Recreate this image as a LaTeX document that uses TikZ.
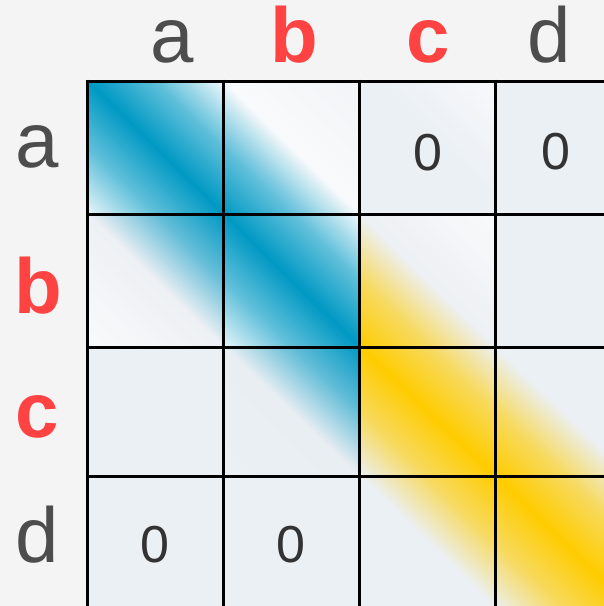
\documentclass[tikz,border=0pt]{standalone}
\usepackage{fontspec}
\setmainfont{Liberation Sans}
\definecolor{bgc}{HTML}{F4F4F4}
\definecolor{cellg}{HTML}{EBF0F5}
\definecolor{bandb}{HTML}{0099C4}
\definecolor{bandy}{HTML}{FFCC00}
\definecolor{labgray}{HTML}{4D4D4D}
\definecolor{labred}{HTML}{FF4242}
\definecolor{zerogray}{HTML}{333333}
\colorlet{bwa}{bandb!9!white}
\colorlet{bwb}{bandb!4!white}
\colorlet{bmid}{bandb!62!white}
\definecolor{offw}{HTML}{F2F4F7}
\definecolor{nearw}{HTML}{F9FAFB}
\definecolor{midg}{HTML}{EDF0F4}
\definecolor{ltg}{HTML}{F8F9FB}
\definecolor{midg2}{HTML}{E9EEF3}
\colorlet{bmidg}{bandb!58!midg}
\colorlet{bmidg2}{bandb!58!midg2}
\colorlet{ymid}{bandy!62!cellg}
\newcommand\cellgrad[5]{%
  \begin{scope}
    \clip (#1,#2) rectangle (#3,#4);
    \begin{scope}[shift={(#1,#4)}, xscale={#3-#1}, yscale={#2-#4}]
      \foreach \gs/\gcol [remember=\gs as \gps (initially 0), remember=\gcol as \gpcol (initially white)] in {#5} {
        \foreach \gi in {0,...,30} {
          \pgfmathsetmacro\gc{\gps+(\gs-\gps)*\gi/30}
          \pgfmathsetmacro\gp{100*\gi/30}
          \fill[fill=\gcol!\gp!\gpcol] ({2*\gc+2},-2) -- ({2*\gc-2},2) -- ({2*\gc+2},2) -- cycle;
        }
      }
    \end{scope}
  \end{scope}}
\begin{document}
\begin{tikzpicture}[x=1pt,y=-1pt,
  lab/.style={inner sep=0pt, anchor=base, font=\fontsize{78}{80}\selectfont},
  plainlab/.style={lab, text=labgray},
  redlab/.style={lab, text=labred, font=\fontsize{78}{80}\selectfont\bfseries},
  zero/.style={inner sep=0pt, text=zerogray, font=\fontsize{52}{54}\selectfont},
  gridline/.style={line width=3pt, black}]
\path[use as bounding box, fill=bgc] (0,0) rectangle (604,606);
\begin{scope}
  \clip (0,0) rectangle (604,606);
  % row a
  \cellgrad{87}{81}{223}{214}{0/bwa, 0.25/bmid, 0.5/bandb, 0.75/bmid, 1/bwb}
  \cellgrad{223}{81}{359}{214}{0/bandb, 0.25/bmid, 0.5/nearw, 1/offw}
  \cellgrad{359}{81}{495}{214}{0/cellg, 0.55/cellg, 1/ltg}
  \fill[cellg] (495,81) rectangle (631,214);
  % row b
  \cellgrad{87}{214}{223}{347}{0/nearw, 0.5/midg, 0.75/bmidg, 1/bandb}
  \cellgrad{223}{214}{359}{347}{0/bwa, 0.25/bmid, 0.5/bandb, 0.75/bmid, 1/bwb}
  \cellgrad{359}{214}{495}{347}{0/bandy, 0.25/ymid, 0.5/midg, 1/nearw}
  \fill[cellg] (495,214) rectangle (631,347);
  % row c
  \fill[cellg] (87,347) rectangle (223,476);
  \cellgrad{223}{347}{359}{476}{0/cellg, 0.5/midg2, 0.75/bmidg2, 1/bandb}
  \cellgrad{359}{347}{495}{476}{0/cellg, 0.25/ymid, 0.5/bandy, 0.75/ymid, 1/cellg}
  \cellgrad{495}{347}{631}{476}{0/bandy, 0.25/ymid, 0.5/cellg, 1/cellg}
  % row d
  \fill[cellg] (87,476) rectangle (223,609);
  \fill[cellg] (223,476) rectangle (359,609);
  \cellgrad{359}{476}{495}{609}{0/cellg, 0.5/cellg, 0.75/ymid, 1/bandy}
  \cellgrad{495}{476}{631}{609}{0/cellg, 0.25/ymid, 0.5/bandy, 0.75/ymid, 1/cellg}
  % grid
  \foreach \gx in {87,223,359,495} \draw[gridline] (\gx,79.5) -- (\gx,610);
  \foreach \gy in {81,214,347,476} \draw[gridline] (85.5,\gy) -- (610,\gy);
\end{scope}
% column labels
\node[plainlab] (ca) at (172,62) {a};
\node[redlab] (cb) at (294,62) {b};
\node[redlab] (cc) at (428,62) {c};
\node[plainlab] (cd) at (549,62) {d};
% row labels
\node[plainlab] (ra) at (37,167) {a};
\node[redlab] (rb) at (38,313) {b};
\node[redlab] (rc) at (37,437) {c};
\node[plainlab] (rd) at (37,562) {d};
% zeros
\node[zero] (z1) at (428,153) {0};
\node[zero] (z2) at (556,152) {0};
\node[zero] (z3) at (155,545) {0};
\node[zero] (z4) at (291,545) {0};
\end{tikzpicture}
\end{document}
